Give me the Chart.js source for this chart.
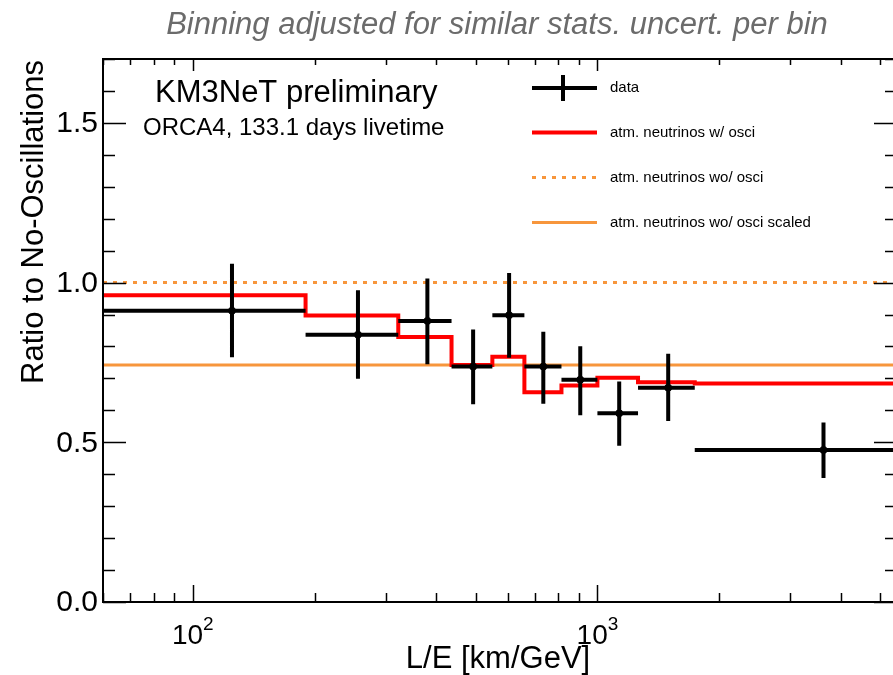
<!DOCTYPE html>
<html>
<head>
<meta charset="utf-8">
<script src="https://cdn.jsdelivr.net/npm/chart.js@4.4.1/dist/chart.umd.min.js"></script>
<style>
  html, body { margin: 0; padding: 0; background: #fff; overflow: hidden; }
  .wrap { width: 893px; height: 675px; overflow: hidden; }
</style>
</head>
<body>
<div class="wrap"><canvas id="chart" width="910" height="675"></canvas></div>
<script>
// bin edges in L/E (km/GeV), shared by data and MC
const binEdges = [60, 190, 322, 436, 550, 660, 815, 1000, 1260, 1740, 5500];
const dataX = [125, 256, 380, 493, 605, 735, 907, 1132, 1496, 3620];
const dataY = [0.912, 0.837, 0.880, 0.737, 0.898, 0.737, 0.696, 0.591, 0.671, 0.476];
const errLow = [0.766, 0.699, 0.744, 0.619, 0.765, 0.621, 0.585, 0.489, 0.567, 0.388];
const errHigh = [1.059, 0.976, 1.013, 0.853, 1.030, 0.846, 0.801, 0.690, 0.777, 0.562];
const oscRatio = [0.960, 0.897, 0.830, 0.742, 0.768, 0.657, 0.678, 0.702, 0.688, 0.684];
const noOscRatio = 1.0;
const noOscScaled = 0.742;

const yTickLabels = ['0.0', '0.5', '1.0', '1.5'];
const xTickPowers = [2, 3];
const legendLabels = [
  'data',
  'atm. neutrinos w/ osci',
  'atm. neutrinos wo/ osci',
  'atm. neutrinos wo/ osci scaled',
];

const FONT = "'Liberation Sans', Arial, sans-serif";
const ORANGE = '#f7963c';
const RED = '#ff0000';

const xMin = binEdges[0];
const xMax = binEdges[binEdges.length - 1];

const oscSteps = binEdges.map((x, i) => ({ x, y: oscRatio[Math.min(i, oscRatio.length - 1)] }));
const dataBars = dataX.flatMap((x, i) => [
  { x: binEdges[i], y: dataY[i] },
  { x: binEdges[i + 1], y: dataY[i] },
  { x, y: null },
]);
const dataErrors = dataX.flatMap((x, i) => [
  { x, y: errLow[i] },
  { x, y: errHigh[i] },
  { x, y: null },
]);
const dataPoints = dataX.map((x, i) => ({ x, y: dataY[i] }));

const frameAndText = {
  id: 'frameAndText',
  afterDraw(chart) {
    const { ctx, chartArea: a, scales } = chart;
    const xs = scales.x;
    const ys = scales.y;
    ctx.save();

    // frame
    ctx.strokeStyle = '#000';
    ctx.lineWidth = 2;
    ctx.strokeRect(a.left, a.top, a.right - a.left, a.bottom - a.top);

    // x ticks (log), bottom and top, pointing inwards
    ctx.lineWidth = 1.5;
    for (let d = 10; d < xMax; d *= 10) {
      for (let m = 1; m < 10; m++) {
        const v = d * m;
        if (v < xMin || v > xMax) continue;
        const px = Math.round(xs.getPixelForValue(v)) + 0.5;
        const major = m === 1;
        ctx.beginPath();
        ctx.moveTo(px, a.bottom);
        ctx.lineTo(px, a.bottom - (major ? 17 : 9));
        ctx.moveTo(px, a.top);
        ctx.lineTo(px, a.top + (major ? 12 : 6));
        ctx.stroke();
      }
    }

    // y ticks every 0.1, left and right
    for (let k = 0; k <= 17; k++) {
      const py = Math.round(ys.getPixelForValue(k / 10)) + 0.5;
      const major = k % 5 === 0;
      const len = major ? 23 : 12;
      ctx.beginPath();
      ctx.moveTo(a.left, py);
      ctx.lineTo(a.left + len, py);
      ctx.moveTo(a.right, py);
      ctx.lineTo(a.right - len, py);
      ctx.stroke();
    }

    // y tick labels
    ctx.fillStyle = '#000';
    ctx.font = '30px ' + FONT;
    ctx.textAlign = 'right';
    ctx.textBaseline = 'middle';
    yTickLabels.forEach((t) => {
      ctx.fillText(t, a.left - 5, ys.getPixelForValue(parseFloat(t)) + 1);
    });

    // x tick labels 10^n
    ctx.textAlign = 'left';
    ctx.textBaseline = 'alphabetic';
    xTickPowers.forEach((p) => {
      const px = xs.getPixelForValue(Math.pow(10, p));
      ctx.font = '28px ' + FONT;
      const w10 = ctx.measureText('10').width;
      ctx.font = '19px ' + FONT;
      const wp = ctx.measureText(String(p)).width;
      const x0 = px - (w10 + wp) / 2;
      ctx.font = '28px ' + FONT;
      ctx.fillText('10', x0, 644);
      ctx.font = '19px ' + FONT;
      ctx.fillText(String(p), x0 + w10, 630);
    });

    // axis titles
    ctx.font = '31px ' + FONT;
    ctx.textAlign = 'center';
    ctx.fillText('L/E [km/GeV]', 498, 668);

    ctx.save();
    ctx.translate(43, 60);
    ctx.rotate(-Math.PI / 2);
    ctx.textAlign = 'right';
    ctx.fillText('Ratio to No-Oscillations', 0, 0);
    ctx.restore();

    // titles
    ctx.fillStyle = '#6b6b6b';
    ctx.font = 'italic 31px ' + FONT;
    ctx.textAlign = 'center';
    ctx.fillText('Binning adjusted for similar stats. uncert. per bin', 497, 34);

    ctx.fillStyle = '#000';
    ctx.textAlign = 'left';
    ctx.font = '31px ' + FONT;
    ctx.fillText('KM3NeT preliminary', 155, 102);
    ctx.font = '24px ' + FONT;
    ctx.fillText('ORCA4, 133.1 days livetime', 143, 135);

    // legend
    const ly = [88, 132.5, 177.5, 222.5];
    const lx0 = 532;
    const lx1 = 597;
    ctx.lineCap = 'butt';

    ctx.strokeStyle = '#000';
    ctx.lineWidth = 4;
    ctx.beginPath();
    ctx.moveTo(lx0, ly[0]);
    ctx.lineTo(lx1, ly[0]);
    ctx.moveTo(563, ly[0] - 13);
    ctx.lineTo(563, ly[0] + 13);
    ctx.stroke();

    ctx.strokeStyle = RED;
    ctx.beginPath();
    ctx.moveTo(lx0, ly[1]);
    ctx.lineTo(lx1, ly[1]);
    ctx.stroke();

    ctx.strokeStyle = ORANGE;
    ctx.lineWidth = 3;
    ctx.setLineDash([4, 6]);
    ctx.beginPath();
    ctx.moveTo(lx0, ly[2]);
    ctx.lineTo(lx1, ly[2]);
    ctx.stroke();
    ctx.setLineDash([]);

    ctx.beginPath();
    ctx.moveTo(lx0, ly[3]);
    ctx.lineTo(lx1, ly[3]);
    ctx.stroke();

    ctx.fillStyle = '#000';
    ctx.font = '15px ' + FONT;
    ctx.textBaseline = 'middle';
    legendLabels.forEach((t, i) => ctx.fillText(t, 610, ly[i]));

    ctx.restore();
  },
};

Chart.defaults.font.family = FONT;

new Chart(document.getElementById('chart'), {
  type: 'line',
  data: {
    datasets: [
      {
        label: 'data points',
        type: 'scatter',
        data: dataPoints,
        backgroundColor: '#000',
        borderColor: '#000',
        pointRadius: 3.5,
        order: 0,
      },
      {
        label: 'data errors',
        data: dataErrors,
        borderColor: '#000',
        borderWidth: 4,
        pointRadius: 0,
        spanGaps: false,
        order: 1,
      },
      {
        label: 'data bins',
        data: dataBars,
        borderColor: '#000',
        borderWidth: 4,
        pointRadius: 0,
        spanGaps: false,
        order: 2,
      },
      {
        label: 'atm. neutrinos w/ osci',
        data: oscSteps,
        borderColor: RED,
        borderWidth: 4,
        pointRadius: 0,
        stepped: 'before',
        order: 3,
      },
      {
        label: 'atm. neutrinos wo/ osci scaled',
        data: [{ x: xMin, y: noOscScaled }, { x: xMax, y: noOscScaled }],
        borderColor: ORANGE,
        borderWidth: 3,
        pointRadius: 0,
        order: 4,
      },
      {
        label: 'atm. neutrinos wo/ osci',
        data: [{ x: xMin, y: noOscRatio }, { x: xMax, y: noOscRatio }],
        borderColor: ORANGE,
        borderWidth: 3,
        borderDash: [4, 6],
        pointRadius: 0,
        order: 5,
      },
    ],
  },
  options: {
    responsive: false,
    animation: false,
    devicePixelRatio: 1,
    layout: {
      padding: { left: 103, top: 59, right: 13, bottom: 73 },
    },
    scales: {
      x: {
        type: 'logarithmic',
        min: xMin,
        max: xMax,
        display: false,
      },
      y: {
        type: 'linear',
        min: 0,
        max: 1.7,
        display: false,
      },
    },
    plugins: {
      legend: { display: false },
      tooltip: { enabled: false },
    },
  },
  plugins: [frameAndText],
});
</script>
</body>
</html>
